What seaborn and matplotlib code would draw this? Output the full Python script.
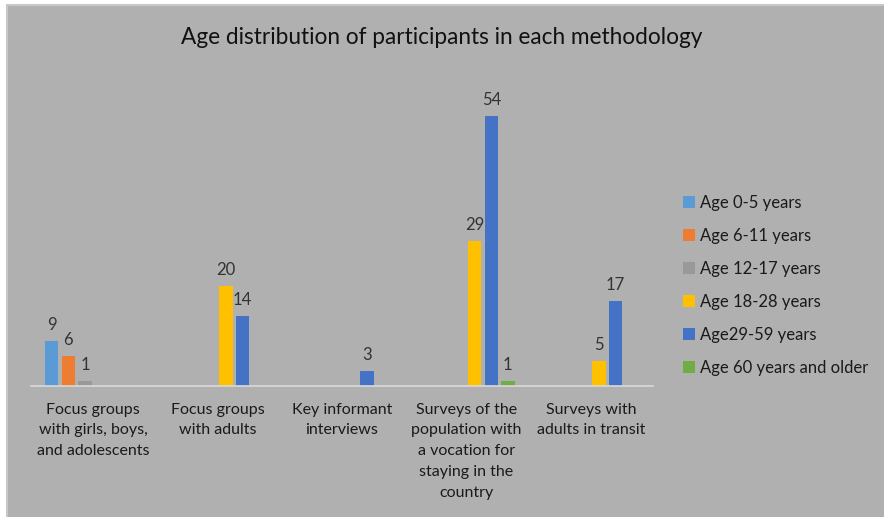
import matplotlib
matplotlib.use("Agg")
import matplotlib.pyplot as plt
from matplotlib.patches import Rectangle
import seaborn as sns
import pandas as pd

categories = [
    "Focus groups\nwith girls, boys,\nand adolescents",
    "Focus groups\nwith adults",
    "Key informant\ninterviews",
    "Surveys of the\npopulation with\na vocation for\nstaying in the\ncountry",
    "Surveys with\nadults in transit",
]
series_names = ["Age 0-5 years", "Age 6-11 years", "Age 12-17 years",
                "Age 18-28 years", "Age29-59 years", "Age 60 years and older"]
age_0_5 = [9, 0, 0, 0, 0]
age_6_11 = [6, 0, 0, 0, 0]
age_12_17 = [1, 0, 0, 0, 0]
age_18_28 = [0, 20, 0, 29, 5]
age_29_59 = [0, 14, 3, 54, 17]
age_60_plus = [0, 0, 0, 1, 0]
colors = ["#5B9BD5", "#ED7D31", "#999999", "#FFC000", "#4472C4", "#70AD47"]
title = "Age distribution of participants in each methodology"

all_series = [age_0_5, age_6_11, age_12_17, age_18_28, age_29_59, age_60_plus]
rows = []
for name, vals in zip(series_names, all_series):
    for cat, v in zip(categories, vals):
        rows.append({"category": cat, "series": name, "value": v})
df = pd.DataFrame(rows)

sns.set_theme(style="white")
plt.rcParams["font.family"] = ["Lato", "DejaVu Sans"]

BG = "#B0B0B0"
fig = plt.figure(figsize=(8.84, 5.17), dpi=100)
fig.patch.set_facecolor("white")
fig.patches.append(Rectangle((7 / 884, 0), 1, 1 - 5 / 517, transform=fig.transFigure,
                             facecolor=BG, edgecolor="none", zorder=-10))
fig.add_artist(plt.Line2D([7 / 884, 1], [1 - 5 / 517, 1 - 5 / 517], transform=fig.transFigure,
                          color="#C8C8C8", linewidth=1.5))
fig.add_artist(plt.Line2D([7 / 884, 7 / 884], [0, 1 - 5 / 517], transform=fig.transFigure,
                          color="#C8C8C8", linewidth=1.5))

ax = fig.add_axes([31 / 884, 131 / 517, 622 / 884, 300 / 517])
ax.set_facecolor("none")

sns.barplot(data=df, x="category", y="value", hue="series", order=categories,
            hue_order=series_names, palette=colors, width=0.8, gap=0.19,
            saturation=1, linewidth=0, edgecolor="none", ax=ax, legend=True)

for container in ax.containers:
    labels = [f"{v:g}" if v > 0 else "" for v in container.datavalues]
    ax.bar_label(container, labels=labels, padding=6, fontsize=12, color="#333333")

ax.set_ylim(0, 60)
ax.set_xlim(-0.5, len(categories) - 0.5)
ax.set_xlabel("")
ax.set_ylabel("")
ax.set_yticks([])
ax.tick_params(axis="x", length=0, pad=12, labelsize=11.5, labelcolor="#1a1a1a")
for lab in ax.get_xticklabels():
    lab.set_linespacing(1.62)
    lab.set_verticalalignment("top")
for s in ["top", "right", "left"]:
    ax.spines[s].set_visible(False)
ax.spines["bottom"].set_color("#D9D9D9")
ax.spines["bottom"].set_linewidth(1.2)

leg = ax.legend(loc="center left", bbox_to_anchor=(668 / 884, 1 - 285.5 / 517),
                bbox_transform=fig.transFigure, frameon=False, fontsize=12,
                handlelength=0.7, handleheight=0.7, handletextpad=0.35,
                labelspacing=1.02)
for t in leg.get_texts():
    t.set_color("#1a1a1a")
for h in leg.legend_handles:
    h.set_edgecolor("none")
    h.set_linewidth(0)

fig.text(0.5, 1 - 38 / 517, title, ha="center", va="center", fontsize=16.3, color="#111111")

fig.savefig("out.png", dpi=100, facecolor=fig.get_facecolor())
